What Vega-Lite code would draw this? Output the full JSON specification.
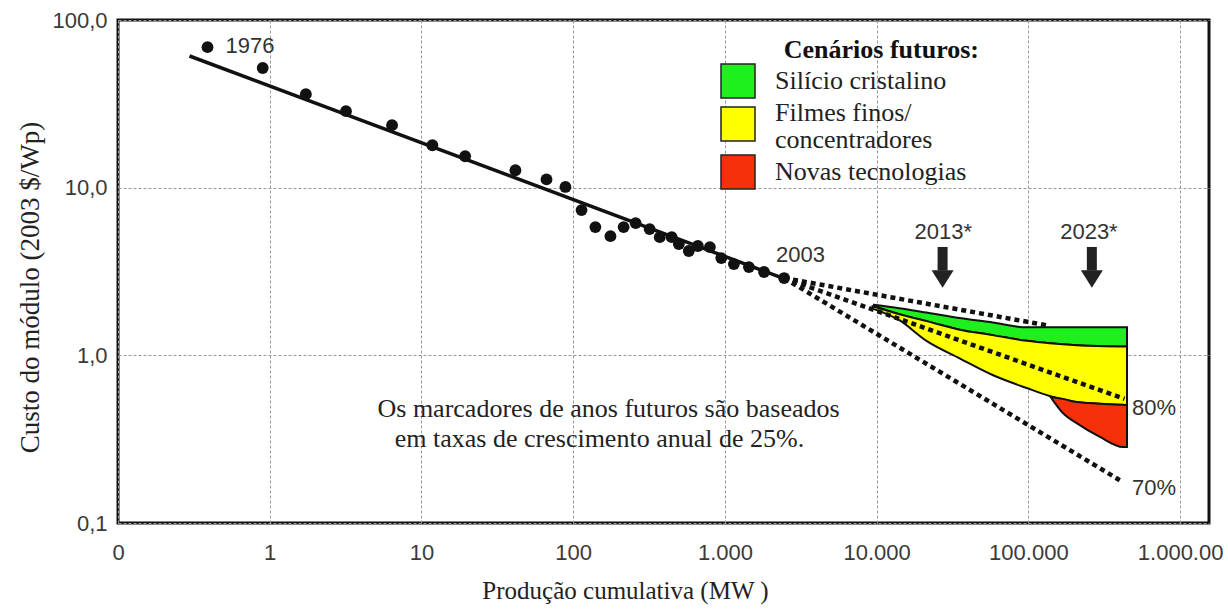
{
  "$schema": "https://vega.github.io/schema/vega-lite/v6.json",
  "width": 1091,
  "height": 503,
  "autosize": {"type": "none"},
  "padding": {"left": 118, "top": 20, "right": 19, "bottom": 87},
  "background": "white",
  "config": {"view": {"stroke": "#111", "strokeWidth": 3}},
  "datasets": {
    "pontos": [
      {"x": 0.389, "y": 68.9}, {"x": 0.899, "y": 51.7}, {"x": 1.73, "y": 36.1}, {"x": 3.18, "y": 28.6},
      {"x": 6.4, "y": 23.6}, {"x": 11.8, "y": 17.9}, {"x": 19.4, "y": 15.4}, {"x": 41.6, "y": 12.7},
      {"x": 66.7, "y": 11.2}, {"x": 88.9, "y": 10.1}, {"x": 113.5, "y": 7.35}, {"x": 140, "y": 5.82},
      {"x": 176, "y": 5.14}, {"x": 215, "y": 5.82}, {"x": 258, "y": 6.15}, {"x": 319, "y": 5.66},
      {"x": 372, "y": 5.07}, {"x": 446, "y": 5.07}, {"x": 497, "y": 4.61}, {"x": 578, "y": 4.19},
      {"x": 663, "y": 4.49}, {"x": 796, "y": 4.42}, {"x": 946, "y": 3.8}, {"x": 1146, "y": 3.5},
      {"x": 1439, "y": 3.36}, {"x": 1811, "y": 3.14}, {"x": 2455, "y": 2.89}
    ],
    "ajuste": [{"x": 0.296, "y": 61}, {"x": 2455, "y": 2.87}],
    "projecoes": [
      {"serie": "superior", "x": 2455, "y": 2.89}, {"serie": "superior", "x": 138000, "y": 1.5},
      {"serie": "80%", "x": 2455, "y": 2.89}, {"serie": "80%", "x": 430000, "y": 0.55},
      {"serie": "70%", "x": 2455, "y": 2.89}, {"serie": "70%", "x": 400000, "y": 0.18}
    ],
    "cenarios": [
      {"cenario": "Silício cristalino", "x": 9600, "y": 2.0, "y2": 1.97},
      {"cenario": "Silício cristalino", "x": 14100, "y": 1.91, "y2": 1.76},
      {"cenario": "Silício cristalino", "x": 21300, "y": 1.8, "y2": 1.6},
      {"cenario": "Silício cristalino", "x": 35200, "y": 1.67, "y2": 1.42},
      {"cenario": "Silício cristalino", "x": 58100, "y": 1.57, "y2": 1.32},
      {"cenario": "Silício cristalino", "x": 97500, "y": 1.47, "y2": 1.22},
      {"cenario": "Silício cristalino", "x": 138000, "y": 1.47, "y2": 1.18},
      {"cenario": "Silício cristalino", "x": 208000, "y": 1.47, "y2": 1.15},
      {"cenario": "Silício cristalino", "x": 446700, "y": 1.47, "y2": 1.13},
      {"cenario": "Filmes finos/ concentradores", "x": 9400, "y": 1.96, "y2": 1.9},
      {"cenario": "Filmes finos/ concentradores", "x": 14100, "y": 1.76, "y2": 1.62},
      {"cenario": "Filmes finos/ concentradores", "x": 21300, "y": 1.6, "y2": 1.22},
      {"cenario": "Filmes finos/ concentradores", "x": 35200, "y": 1.42, "y2": 0.96},
      {"cenario": "Filmes finos/ concentradores", "x": 58100, "y": 1.32, "y2": 0.763},
      {"cenario": "Filmes finos/ concentradores", "x": 97500, "y": 1.22, "y2": 0.638},
      {"cenario": "Filmes finos/ concentradores", "x": 138000, "y": 1.18, "y2": 0.572},
      {"cenario": "Filmes finos/ concentradores", "x": 208000, "y": 1.15, "y2": 0.526},
      {"cenario": "Filmes finos/ concentradores", "x": 446700, "y": 1.13, "y2": 0.505},
      {"cenario": "Novas tecnologias", "x": 140000, "y": 0.565, "y2": 0.565},
      {"cenario": "Novas tecnologias", "x": 168600, "y": 0.55, "y2": 0.453},
      {"cenario": "Novas tecnologias", "x": 208000, "y": 0.526, "y2": 0.394},
      {"cenario": "Novas tecnologias", "x": 296000, "y": 0.515, "y2": 0.326},
      {"cenario": "Novas tecnologias", "x": 420000, "y": 0.507, "y2": 0.284},
      {"cenario": "Novas tecnologias", "x": 446700, "y": 0.505, "y2": 0.284}
    ],
    "setas": [{"x": 27200, "y": 4.43, "y2": 3.2}, {"x": 262000, "y": 4.43, "y2": 3.2}],
    "pontas": [{"x": 27200, "y": 2.85}, {"x": 262000, "y": 2.85}],
    "rotulos_esq": [
      {"t": "1976", "x": 0.512, "y": 69.8},
      {"t": "2003", "x": 2173, "y": 3.96},
      {"t": "80%", "x": 482000, "y": 0.485},
      {"t": "70%", "x": 482000, "y": 0.162}
    ],
    "rotulos_centro": [
      {"t": "2013*", "x": 27500, "y": 5.43},
      {"t": "2023*", "x": 250600, "y": 5.43}
    ],
    "nota": [
      {"t": "Os marcadores de anos futuros são baseados", "x": 171, "y": 0.478},
      {"t": "em taxas de crescimento anual de 25%.", "x": 149, "y": 0.317}
    ]
  },
  "encoding": {
    "x": {
      "field": "x", "type": "quantitative",
      "scale": {"type": "log", "domain": [0.1, 1550000], "nice": false, "zero": false},
      "axis": {
        "values": [0.1, 1, 10, 100, 1000, 10000, 100000, 1000000],
        "labelExpr": "datum.value < 0.5 ? '0' : datum.value < 5 ? '1' : datum.value < 50 ? '10' : datum.value < 500 ? '100' : datum.value < 5000 ? '1.000' : datum.value < 50000 ? '10.000' : datum.value < 500000 ? '100.000' : '1.000.00'",
        "grid": true, "gridColor": "#9a9a9a", "gridDash": [3, 2], "gridWidth": 1,
        "domain": false, "ticks": false, "tickSize": 0,
        "labelFont": "Liberation Sans", "labelFontSize": 22, "labelColor": "#3a3a3a",
        "labelPadding": 29, "labelBaseline": "middle", "labelFlush": false, "labelOverlap": false,
        "title": "Produção cumulativa (MW )",
        "titleFont": "Liberation Serif", "titleFontSize": 25, "titleFontWeight": "normal", "titleColor": "#222",
        "titleX": 507, "titleY": 67, "titleBaseline": "middle", "titleAlign": "center"
      }
    },
    "y": {
      "field": "y", "type": "quantitative", "stack": null,
      "scale": {"type": "log", "domain": [0.1, 100], "nice": false, "zero": false},
      "axis": {
        "values": [0.1, 1, 10, 100],
        "labelExpr": "datum.value < 0.5 ? '0,1' : datum.value < 5 ? '1,0' : datum.value < 50 ? '10,0' : '100,0'",
        "grid": true, "gridColor": "#9a9a9a", "gridDash": [3, 2], "gridWidth": 1,
        "domain": false, "ticks": false, "tickSize": 0,
        "labelFont": "Liberation Sans", "labelFontSize": 22, "labelColor": "#3a3a3a",
        "labelPadding": 11, "labelOverlap": false,
        "title": "Custo do módulo (2003 $/Wp)",
        "titleFont": "Liberation Serif", "titleFontSize": 27, "titleFontWeight": "normal", "titleColor": "#222",
        "titleX": -88, "titleY": 267, "titleAngle": -90, "titleBaseline": "middle", "titleAlign": "center"
      }
    }
  },
  "layer": [
    {
      "data": {"name": "cenarios"},
      "mark": {"type": "area", "interpolate": "monotone", "stroke": "#111", "strokeWidth": 2, "fillOpacity": 1},
      "encoding": {
        "y2": {"field": "y2"},
        "fill": {
          "field": "cenario", "type": "nominal",
          "scale": {"domain": ["Silício cristalino", "Filmes finos/ concentradores", "Novas tecnologias"], "range": ["#1ef01e", "#ffff00", "#f5300a"]},
          "legend": {
            "orient": "none", "legendX": 602, "legendY": 17, "padding": 0,
            "title": "Cenários futuros:", "titleFont": "Liberation Serif", "titleFontSize": 26, "titleFontWeight": "bold",
            "titleColor": "#111", "titleAnchor": "end", "titlePadding": 0, "titleLimit": 600,
            "symbolType": "square", "symbolSize": 1156, "symbolStrokeColor": "#222", "symbolStrokeWidth": 1.5, "symbolOpacity": 1,
            "labelFont": "Liberation Serif", "labelFontSize": 26, "labelColor": "#222", "labelOffset": 19, "labelLimit": 400,
            "labelExpr": "datum.label == 'Filmes finos/ concentradores' ? ['Filmes finos/', 'concentradores'] : datum.label",
            "rowPadding": -1,
            "encode": {
              "title": {"update": {"dx": {"value": 13}}},
              "labels": {
                "update": {
                  "dy": {"signal": "datum.value == 'Filmes finos/ concentradores' ? -11 : 0"},
                  "lineHeight": {"value": 27}
                }
              }
            }
          }
        }
      }
    },
    {
      "data": {"name": "ajuste"},
      "mark": {"type": "line", "color": "#111", "strokeWidth": 3.5}
    },
    {
      "data": {"name": "projecoes"},
      "mark": {"type": "line", "color": "#111", "strokeWidth": 4.5, "strokeDash": [5, 4]},
      "encoding": {"detail": {"field": "serie"}}
    },
    {
      "data": {"name": "pontos"},
      "mark": {"type": "point", "filled": true, "color": "#111", "size": 140, "opacity": 1}
    },
    {
      "data": {"name": "setas"},
      "mark": {"type": "rule", "color": "#222", "strokeWidth": 10},
      "encoding": {"y2": {"field": "y2"}}
    },
    {
      "data": {"name": "pontas"},
      "mark": {"type": "point", "filled": true, "color": "#222", "opacity": 1, "size": 484, "shape": "M-1,-0.8L1,-0.8L0,0.8Z"}
    },
    {
      "data": {"name": "rotulos_esq"},
      "mark": {"type": "text", "align": "left", "baseline": "middle", "font": "Liberation Sans", "fontSize": 22, "color": "#333"},
      "encoding": {"text": {"field": "t"}}
    },
    {
      "data": {"name": "rotulos_centro"},
      "mark": {"type": "text", "align": "center", "baseline": "middle", "font": "Liberation Sans", "fontSize": 22, "color": "#333"},
      "encoding": {"text": {"field": "t"}}
    },
    {
      "data": {"name": "nota"},
      "mark": {"type": "text", "align": "center", "baseline": "middle", "font": "Liberation Serif", "fontSize": 26, "color": "#222"},
      "encoding": {"text": {"field": "t"}}
    }
  ]
}
